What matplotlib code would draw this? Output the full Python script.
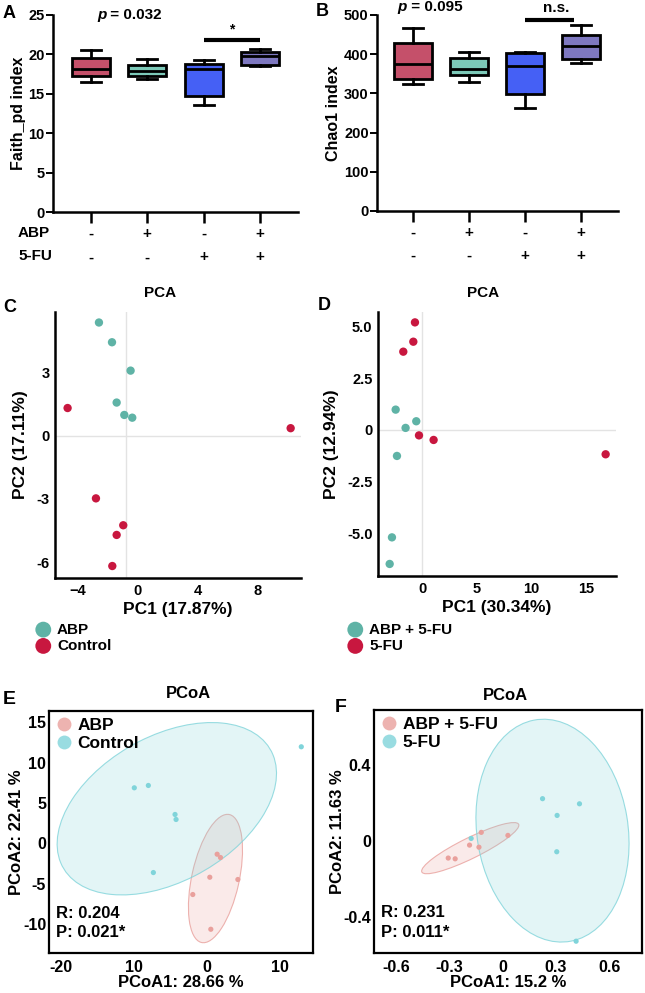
import matplotlib
matplotlib.use("agg")
import matplotlib.pyplot as plt
from matplotlib.patches import Ellipse
from matplotlib.lines import Line2D

plt.rcParams['font.family'] = ['Liberation Sans', 'DejaVu Sans']
plt.rcParams['font.weight'] = 'bold'
plt.rcParams['axes.linewidth'] = 1.4

W, H = 645, 993

# ---- data: alpha diversity boxes (min, q1, median, q3, max)
groups = [1, 2, 3, 4]
abp_signs = ['-', '+', '-', '+']
fu_signs = ['-', '-', '+', '+']
box_colors = ['#c5506a', '#7cc9b8', '#4560f5', '#7e78c0']

faith_stats = [
    [16.5, 17.2, 18.2, 19.6, 20.5],
    [16.9, 17.2, 17.9, 18.6, 19.4],
    [13.6, 14.7, 18.2, 18.8, 19.3],
    [18.5, 18.6, 19.8, 20.3, 20.7],
]
chao_stats = [
    [323, 336, 375, 429, 468],
    [328, 347, 362, 390, 405],
    [264, 298, 370, 404, 406],
    [377, 389, 421, 450, 474],
]

# ---- PCA scores
pca_c_abp_x = [-2.6, -1.73, -0.49, -1.42, -0.91, -0.38]
pca_c_abp_y = [5.4, 4.46, 3.11, 1.59, 1.0, 0.87]
pca_c_ctrl_x = [-4.69, 10.18, -2.8, -0.98, -1.42, -1.71]
pca_c_ctrl_y = [1.33, 0.37, -2.97, -4.25, -4.71, -6.19]

pca_d_combo_x = [-2.44, -0.55, -1.53, -2.32, -2.78, -2.99]
pca_d_combo_y = [0.98, 0.42, 0.10, -1.25, -5.17, -6.45]
pca_d_fu_x = [-0.67, -0.82, -1.74, -0.30, 1.04, 16.82]
pca_d_fu_y = [5.18, 4.25, 3.77, -0.26, -0.48, -1.17]

# ---- PCoA scores
pcoa_e_abp_x = [1.42, 1.88, 0.41, 4.27, -1.93, 0.55]
pcoa_e_abp_y = [-1.33, -1.74, -4.18, -4.46, -6.32, -10.62]
pcoa_e_ctrl_x = [12.99, -9.97, -8.04, -4.37, -4.23, -7.35]
pcoa_e_ctrl_y = [11.97, 6.89, 7.18, 3.59, 2.97, -3.6]

pcoa_f_combo_x = [-0.12, 0.03, -0.186, -0.133, -0.306, -0.267]
pcoa_f_combo_y = [0.046, 0.030, -0.021, -0.032, -0.089, -0.093]
pcoa_f_fu_x = [0.225, 0.433, 0.307, 0.305, -0.177, 0.414]
pcoa_f_fu_y = [0.223, 0.196, 0.135, -0.056, 0.014, -0.526]

# confidence ellipses: (cx, cy, width, height, angle)
ell_e_abp = (1.19, -4.34, 16.3, 6.5, 76)
ell_e_ctrl = (-5.5, 4.3, 32.1, 18.3, 24.6)
ell_f_combo = (-0.182, -0.037, 0.60, 0.11, 24.6)
ell_f_fu = (0.281, 0.055, 1.18, 0.85, 100.2)

teal = '#5fb3a6'
crimson = '#c8173f'
pc_teal = '#80d4da'
pc_red = '#e9a09c'


def rect(l, t, r, b):
    return [l / W, 1 - b / H, (r - l) / W, (b - t) / H]


fig = plt.figure(figsize=(W / 100, H / 100), dpi=100)


def box_panel(ax, stats, ylim, yticks, ylabel, xlim):
    bx = []
    for s in stats:
        bx.append(dict(whislo=s[0], q1=s[1], med=s[2], q3=s[3], whishi=s[4], fliers=[]))
    parts = ax.bxp(bx, positions=groups, widths=0.68, patch_artist=True, showfliers=False,
                   boxprops=dict(linewidth=2, edgecolor='black'),
                   medianprops=dict(color='black', linewidth=2),
                   whiskerprops=dict(linewidth=2), capprops=dict(linewidth=2),
                   capwidths=0.35)
    for patch, c in zip(parts['boxes'], box_colors):
        patch.set_facecolor(c)
    ax.set_xlim(*xlim)
    ax.set_ylim(*ylim)
    ax.set_yticks(yticks)
    ax.set_xticks(groups)
    ax.set_xticklabels([])
    ax.tick_params(axis='x', length=8, width=1.8, direction='out')
    ax.tick_params(axis='y', length=5, width=1.4, labelsize=10.5, pad=1)
    for lab in ax.get_yticklabels():
        lab.set_fontweight('bold')
    ax.spines['top'].set_visible(False)
    ax.spines['right'].set_visible(False)
    ax.spines['left'].set_linewidth(1.8)
    ax.spines['bottom'].set_linewidth(1.8)
    ax.set_ylabel(ylabel, fontsize=11.5, fontweight='bold', labelpad=2)
    tr = ax.get_xaxis_transform()
    for g, a, f in zip(groups, abp_signs, fu_signs):
        ax.text(g, -0.11, a, transform=tr, ha='center', va='center', fontsize=11, fontweight='bold')
        ax.text(g, -0.23, f, transform=tr, ha='center', va='center', fontsize=11, fontweight='bold')


def p_text(ax, x, y, value):
    t = ax.text(x, y, 'p', transform=ax.transAxes, fontsize=11, fontweight='bold',
                fontstyle='italic', ha='left', va='center')
    ax.annotate(' = ' + value, xy=(1, 0.5), xycoords=t, va='center', ha='left',
                fontsize=11, fontweight='bold')


# ---- A
axA = fig.add_axes(rect(53, 15, 298, 212))
box_panel(axA, faith_stats, (0, 25), [0, 5, 10, 15, 20, 25], 'Faith_pd index', (0.33, 4.67))
p_text(axA, 0.18, 1.0, '0.032')
axA.plot([3, 4], [21.8, 21.8], color='black', linewidth=3, solid_capstyle='butt', clip_on=False)
axA.text(3.5, 22.3, '*', ha='center', va='bottom', fontsize=10, fontweight='bold')
fig.text(18 / W, 1 - 233 / H, 'ABP', ha='left', va='center', fontsize=11, fontweight='bold')
fig.text(18 / W, 1 - 256 / H, '5-FU', ha='left', va='center', fontsize=11, fontweight='bold')

# ---- B
axB = fig.add_axes(rect(377, 15, 618, 211))
box_panel(axB, chao_stats, (0, 500), [0, 100, 200, 300, 400, 500], 'Chao1 index', (0.36, 4.66))
p_text(axB, 0.085, 1.04, '0.095')
axB.plot([3, 3.88], [487, 487], color='black', linewidth=3, solid_capstyle='butt', clip_on=False)
axB.text(3.55, 500, 'n.s.', ha='center', va='bottom', fontsize=11, fontweight='bold')

fig.text(3 / W, 1 - 14 / H, 'A', ha='left', va='center', fontsize=13, fontweight='bold')
fig.text(316 / W, 1 - 12 / H, 'B', ha='left', va='center', fontsize=13, fontweight='bold')


# ---- PCA panels
def pca_panel(ax, xs, ys, xlim, ylim, xticks, yticks, ytl, xlabel, ylabel, vline):
    ax.axhline(0, color='#e3e3e3', linewidth=1, zorder=0)
    ax.axvline(vline, color='#e3e3e3', linewidth=1, zorder=0)
    handles = []
    for (x, y), c in zip(zip(xs, ys), [teal, crimson]):
        h = ax.scatter(x, y, s=36, color=c, edgecolors='none', zorder=3)
        handles.append(h)
    ax.set_xlim(*xlim)
    ax.set_ylim(*ylim)
    ax.set_xticks(xticks)
    ax.set_yticks(yticks)
    ax.set_yticklabels(ytl)
    ax.tick_params(length=0, labelsize=10.5, pad=4)
    for lab in ax.get_xticklabels() + ax.get_yticklabels():
        lab.set_fontweight('bold')
    ax.spines['top'].set_visible(False)
    ax.spines['right'].set_visible(False)
    ax.spines['left'].set_linewidth(1.8)
    ax.spines['bottom'].set_linewidth(1.8)
    ax.set_xlabel(xlabel, fontsize=12.5, fontweight='bold', labelpad=3)
    ax.set_ylabel(ylabel, fontsize=12.5, fontweight='bold', labelpad=6)
    return handles


axC = fig.add_axes(rect(55, 312, 301, 578))
hC = pca_panel(axC, [pca_c_abp_x, pca_c_ctrl_x], [pca_c_abp_y, pca_c_ctrl_y],
               (-5.53, 10.87), (-6.76, 5.9), [-4, 0, 4, 8], [-6, -3, 0, 3],
               ['-6', '-3', '0', '3'], 'PC1 (17.87%)', 'PC2 (17.11%)', -0.8)
axD = fig.add_axes(rect(378, 312, 616, 576))
hD = pca_panel(axD, [pca_d_combo_x, pca_d_fu_x], [pca_d_combo_y, pca_d_fu_y],
               (-4.06, 17.77), (-7.03, 5.68), [0, 5, 10, 15], [-5, -2.5, 0, 2.5, 5],
               ['-5.0', '-2.5', '0', '2.5', '5.0'], 'PC1 (30.34%)', 'PC2 (12.94%)', 0)

fig.text(160 / W, 1 - 293 / H, 'PCA', ha='center', va='center', fontsize=11, fontweight='bold')
fig.text(483 / W, 1 - 293 / H, 'PCA', ha='center', va='center', fontsize=11, fontweight='bold')
fig.text(3 / W, 1 - 308 / H, 'C', ha='left', va='center', fontsize=13, fontweight='bold')
fig.text(318 / W, 1 - 306 / H, 'D', ha='left', va='center', fontsize=13, fontweight='bold')

for hs, labels, x0 in [(hC, ['ABP', 'Control'], 28), (hD, ['ABP + 5-FU', '5-FU'], 340)]:
    fig.legend(hs, labels, loc='upper left', bbox_to_anchor=(x0 / W, 1 - 615 / H),
               frameon=False, markerscale=1.9, handletextpad=0.4, labelspacing=0.15,
               borderpad=0, handlelength=1.0, prop=dict(size=11, weight='bold'))


# ---- PCoA panels
def pcoa_panel(ax, xs, ys, ells, labels, xlim, ylim, xticks, xtl, yticks, ytl, xlabel, ylabel, r, p):
    for e, c in zip(ells, [pc_red, pc_teal]):
        ax.add_patch(Ellipse((e[0], e[1]), e[2], e[3], angle=e[4], facecolor=c, alpha=0.22,
                             edgecolor='none', zorder=1))
        ax.add_patch(Ellipse((e[0], e[1]), e[2], e[3], angle=e[4], facecolor='none',
                             edgecolor=c, alpha=0.8, linewidth=0.8, zorder=1))
    for x, y, c in zip(xs, ys, [pc_red, pc_teal]):
        ax.scatter(x, y, s=14, color=c, edgecolors='none', zorder=3)
    ax.set_xlim(*xlim)
    ax.set_ylim(*ylim)
    ax.set_xticks(xticks)
    ax.set_xticklabels(xtl)
    ax.set_yticks(yticks)
    ax.set_yticklabels(ytl)
    ax.tick_params(length=0, labelsize=11.5)
    ax.tick_params(axis='x', pad=5)
    ax.tick_params(axis='y', pad=2)
    for lab in ax.get_xticklabels() + ax.get_yticklabels():
        lab.set_fontweight('bold')
    for sp in ax.spines.values():
        sp.set_linewidth(1.6)
    ax.set_xlabel(xlabel, fontsize=12, fontweight='bold', labelpad=0)
    ax.set_ylabel(ylabel, fontsize=12, fontweight='bold', labelpad=-1)
    hs = [Line2D([], [], marker='o', linestyle='none', markersize=10, color=c, alpha=0.8,
                 markeredgewidth=0) for c in [pc_red, pc_teal]]
    ax.legend(hs, labels, loc='upper left', frameon=False, borderaxespad=0.2, borderpad=0.2,
              handletextpad=0.35, labelspacing=0.15, handlelength=0.9,
              prop=dict(size=12.5, weight='bold'))
    ax.text(0.025, 0.165, 'R: ' + r, transform=ax.transAxes, fontsize=12, fontweight='bold',
            va='center', ha='left')
    ax.text(0.025, 0.083, 'P: ' + p, transform=ax.transAxes, fontsize=12, fontweight='bold',
            va='center', ha='left')


axE = fig.add_axes(rect(49, 711, 313, 953))
pcoa_panel(axE, [pcoa_e_abp_x, pcoa_e_ctrl_x], [pcoa_e_abp_y, pcoa_e_ctrl_y],
           [ell_e_abp, ell_e_ctrl], ['ABP', 'Control'], (-21.7, 14.6), (-13.56, 16.4),
           [-20, -10, 0, 10], ['-20', '10', '0', '10'], [-10, -5, 0, 5, 10, 15],
           ['-10', '-5', '0', '5', '10', '15'], 'PCoA1: 28.66 %', 'PCoA2: 22.41 %',
           '0.204', '0.021*')
axF = fig.add_axes(rect(374, 710, 642, 953))
pcoa_panel(axF, [pcoa_f_combo_x, pcoa_f_fu_x], [pcoa_f_combo_y, pcoa_f_fu_y],
           [ell_f_combo, ell_f_fu], ['ABP + 5-FU', '5-FU'], (-0.724, 0.785), (-0.588, 0.689),
           [-0.6, -0.3, 0, 0.3, 0.6], ['-0.6', '-0.3', '0', '0.3', '0.6'], [-0.4, 0, 0.4],
           ['-0.4', '0', '0.4'], 'PCoA1: 15.2 %', 'PCoA2: 11.63 %', '0.231', '0.011*')

fig.text(188 / W, 1 - 693 / H, 'PCoA', ha='center', va='center', fontsize=12, fontweight='bold')
fig.text(505 / W, 1 - 695 / H, 'PCoA', ha='center', va='center', fontsize=12, fontweight='bold')
fig.text(3 / W, 1 - 699 / H, 'E', ha='left', va='center', fontsize=14, fontweight='bold')
fig.text(335 / W, 1 - 707 / H, 'F', ha='left', va='center', fontsize=14, fontweight='bold')

fig.savefig('out.png', dpi=100)
